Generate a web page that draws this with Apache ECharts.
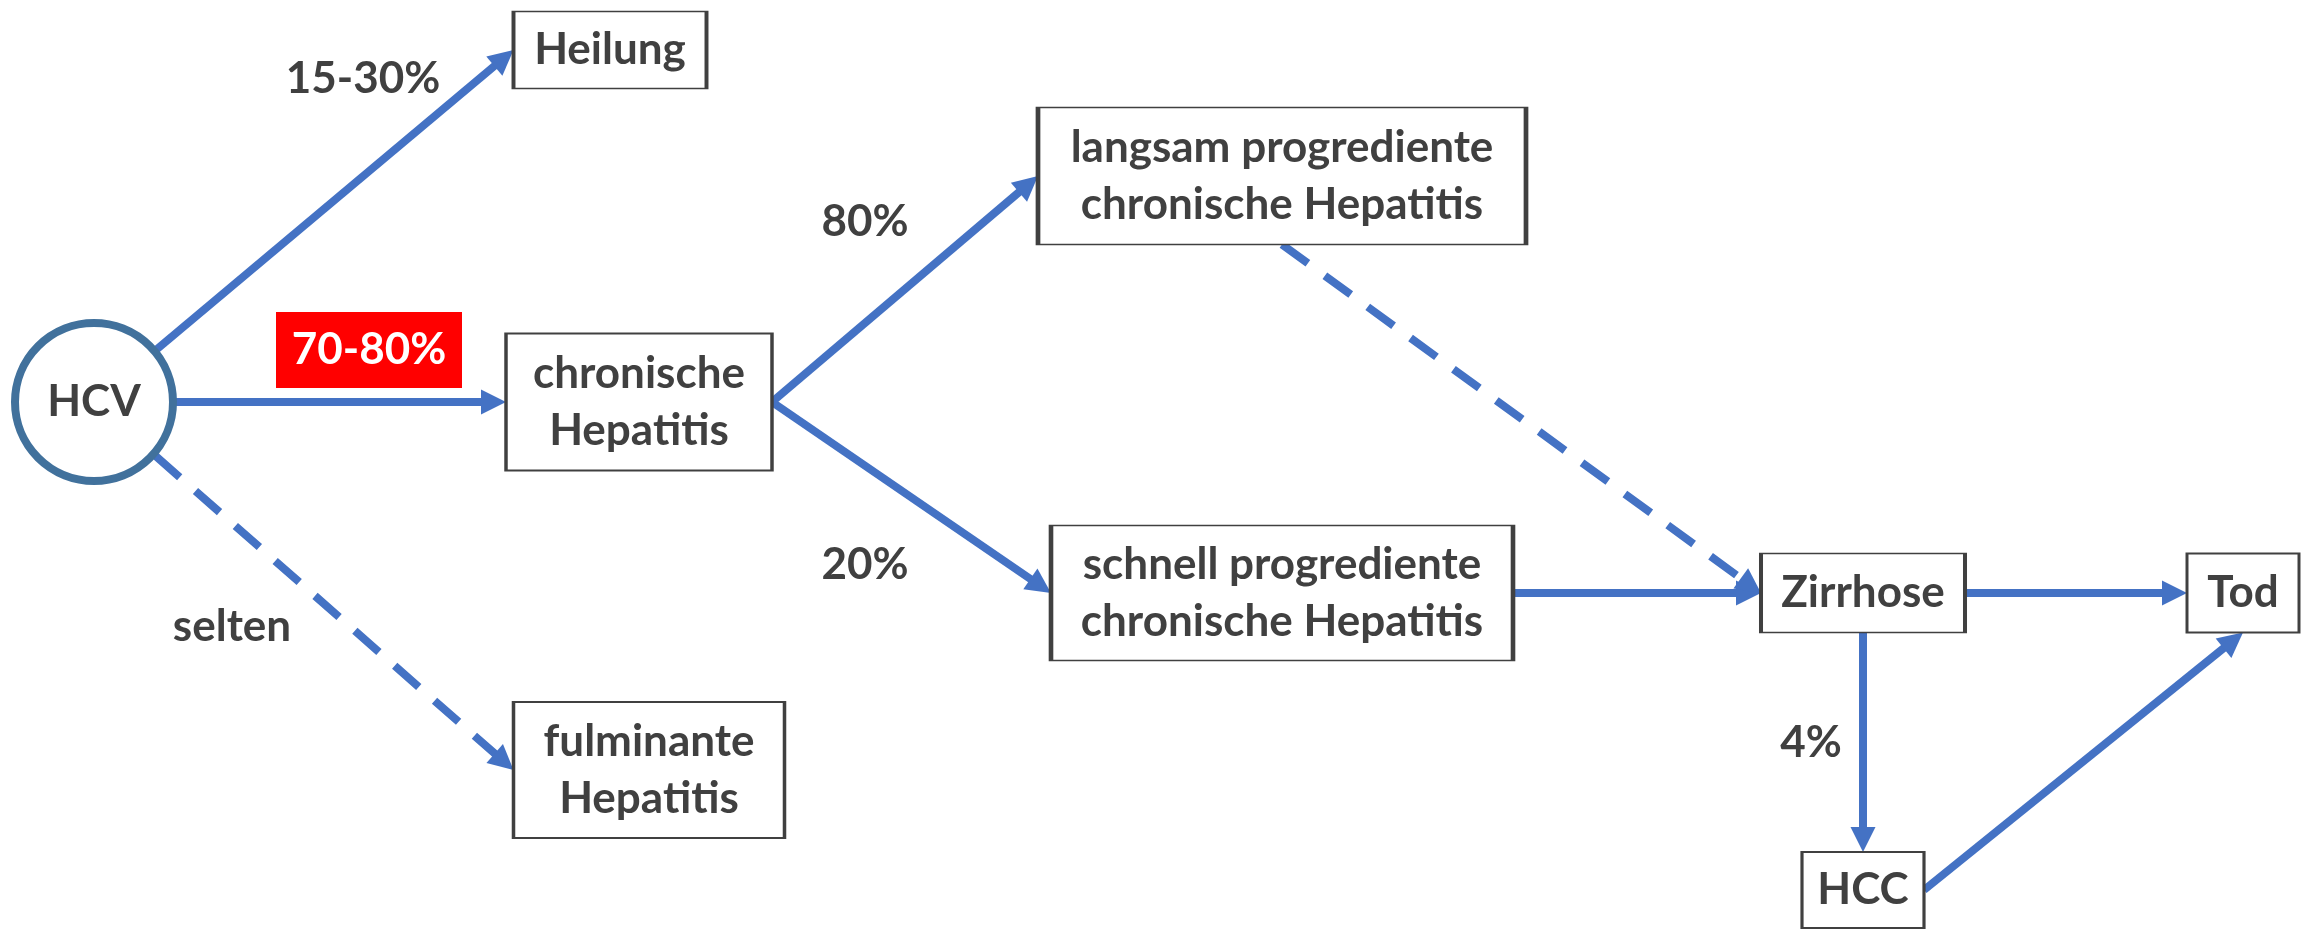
<!DOCTYPE html>
<html>
<head>
<meta charset="utf-8">
<title>HCV Verlauf</title>
<script src="https://cdn.jsdelivr.net/npm/echarts@6/dist/echarts.min.js"></script>
<style>
	html, body {
		margin: 0;
		padding: 0;
		background: #fff;
	}

	#main {
		width: 2306px;
		height: 929px;
	}
</style>
</head>

<body>
	<div id="main"></div>
<script>
	// Knoten des Schemas
	var nodeNames = ['HCV', 'Heilung', 'chronische\nHepatitis', 'fulminante\nHepatitis',
		'langsam progrediente\nchronische Hepatitis', 'schnell progrediente\nchronische Hepatitis',
		'Zirrhose', 'Tod', 'HCC'];
	// Lage der Knoten im Bild (Mitte, Breite, Höhe)
	var nodeX = [94, 610, 639, 649, 1282, 1282, 1863, 2243, 1863];
	var nodeY = [402, 50, 402, 770, 176, 593, 593, 593, 890];
	var nodeW = [158, 193, 266, 271, 488, 462, 204, 112, 122];
	var nodeH = [158, 77, 137, 136, 137, 135, 79, 79, 76];

	// Pfeile: von, nach, Seite am Start / Ende, gestrichelt
	var edgeFrom = [0, 0, 0, 2, 2, 4, 5, 6, 6, 8];
	var edgeTo = [1, 2, 3, 4, 5, 6, 6, 7, 8, 7];
	var edgeFromSide = ['c', 'r', 'c', 'r', 'r', 'b', 'r', 'r', 'b', 'r'];
	var edgeToSide = ['l', 'l', 'l', 'l', 'l', 'l', 'l', 'l', 't', 'b'];
	var edgeDashed = [false, false, true, false, false, true, false, false, false, false];

	// Beschriftungen der Übergänge
	var rateLabels = ['15-30%', '70-80%', 'selten', '80%', '20%', '4%'];
	var rateX = [363, 369, 232, 865, 865, 1811];
	var rateY = [79, 350, 627, 222, 565, 743];
	var rateHighlight = [false, true, false, false, false, false];

	var blue = '#4472C4',
		grey = '#404040',
		font = 'Lato, "Open Sans", sans-serif',
		arrowSize = 25;

	function anchor(i, side, tx, ty) {
		var x = nodeX[i], y = nodeY[i], w = nodeW[i] / 2, h = nodeH[i] / 2;
		if (side === 'l') return [x - w, y];
		if (side === 'r') return [x + w, y];
		if (side === 't') return [x, y - h];
		if (side === 'b') return [x, y + h];
		// Kreis: Rand in Richtung Ziel
		var dx = tx - x, dy = ty - y, d = Math.sqrt(dx * dx + dy * dy);
		return [x + dx / d * (w + 3), y + dy / d * (w + 3)];
	}

	var solidEdges = [], dashedEdges = [];
	for (var k = 0; k < edgeFrom.length; k++) {
		var end = anchor(edgeTo[k], edgeToSide[k]);
		var start = anchor(edgeFrom[k], edgeFromSide[k], end[0], end[1]);
		var dx = end[0] - start[0], dy = end[1] - start[1];
		var d = Math.sqrt(dx * dx + dy * dy);
		// Pfeilspitze soll genau am Kasten enden
		var stop = [end[0] - dx / d * arrowSize / 2, end[1] - dy / d * arrowSize / 2];
		(edgeDashed[k] ? dashedEdges : solidEdges).push({ coords: [start, stop] });
	}

	var boxes = nodeNames.map(function (name, i) {
		return {
			name: name,
			value: [nodeX[i], nodeY[i]],
			symbol: i === 0 ? 'circle' : 'rect',
			symbolSize: [nodeW[i], nodeH[i]],
			itemStyle: i === 0
				? { color: '#fff', borderColor: '#41719C', borderWidth: 8, opacity: 1 }
				: { color: '#fff', borderColor: grey, borderWidth: 2.5, opacity: 1 }
		};
	});

	var rates = rateLabels.map(function (t, i) {
		return {
			name: t,
			value: [rateX[i], rateY[i]],
			symbol: 'rect',
			symbolSize: rateHighlight[i] ? [186, 76] : 0,
			itemStyle: { color: '#FF0000', opacity: 1 },
			label: { color: rateHighlight[i] ? '#fff' : grey }
		};
	});

	var textStyle = {
		show: true,
		position: 'inside',
		formatter: '{b}',
		color: grey,
		fontFamily: font,
		fontWeight: 'bold',
		fontSize: 44,
		lineHeight: 57
	};

	var chart = echarts.init(document.getElementById('main'));
	var option = {
		animation: false,
		grid: { left: 0, right: 0, top: 0, bottom: 0 },
		xAxis: { type: 'value', min: 0, max: 2306, show: false },
		yAxis: { type: 'value', min: 0, max: 929, inverse: true, show: false },
		series: [
			{
				type: 'lines',
				coordinateSystem: 'cartesian2d',
				silent: true,
				symbol: ['none', 'triangle'],
				symbolSize: arrowSize,
				lineStyle: { color: blue, width: 8, opacity: 1, cap: 'butt' },
				data: solidEdges
			},
			{
				type: 'lines',
				coordinateSystem: 'cartesian2d',
				silent: true,
				symbol: ['none', 'triangle'],
				symbolSize: arrowSize,
				lineStyle: { color: blue, width: 8, opacity: 1, type: [32, 21], cap: 'butt' },
				data: dashedEdges
			},
			{
				type: 'scatter',
				silent: true,
				z: 3,
				label: textStyle,
				data: boxes
			},
			{
				type: 'scatter',
				silent: true,
				z: 4,
				label: textStyle,
				data: rates
			}
		]
	};
	chart.setOption(option);
</script>
</body>

</html>
